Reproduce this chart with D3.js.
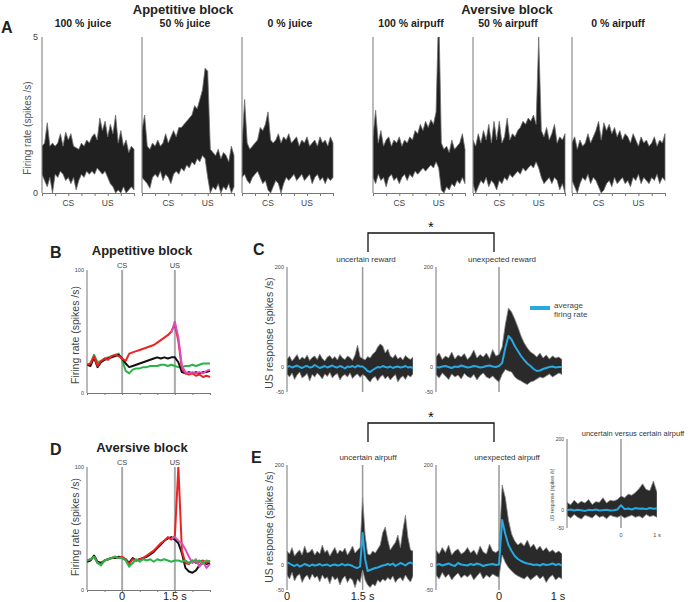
<!DOCTYPE html>
<html>
<head>
<meta charset="utf-8">
<script src="https://cdn.jsdelivr.net/npm/d3@7"></script>
<style>
body { margin: 0; background: #fff; }
svg { font-family: "Liberation Sans", Arial, sans-serif; }
</style>
</head>
<body>
<svg id="fig" width="688" height="602"></svg>
<script>
// time grids (s, relative to CS)
let tA = d3.range(36).map(i => -1 + i * 0.1);
let tUS = d3.range(51).map(i => i * 0.05);          // 0 .. 2.5 s
let tUnexp = d3.range(41).map(i => -1 + i * 0.05);  // -1 .. 1 s
let tInset = d3.range(26).map(i => -1.5 + i * 0.1); // -1.5 .. 1 s

// panel A : envelopes of normalised firing rate, one pair per condition
let juice100Hi = [1.5,1.6,2.25,1.5,1.6,1.5,1.6,1.9,1.5,1.95,1.7,1.9,1.5,1.45,1.4,1.6,1.5,1.7,1.6,1.8,1.9,1.7,2.4,2.0,2.3,1.8,2.2,1.9,2.5,1.6,2.0,1.5,1.7,1.3,1.5,1.4];
let juice100Lo = [0.6,0.4,0.2,0.5,0.0,0.6,0.5,0.7,0.6,0.4,0.5,0.3,0.5,0.1,0.4,0.6,0.5,0.7,0.6,0.7,0.6,0.8,0.7,0.6,0.7,0.5,0.3,0.2,0.0,0.1,0.0,0.2,0.0,0.1,0.2,0.1];
let juice50Hi = [2.0,2.5,1.5,1.4,1.6,1.5,1.7,1.5,1.6,1.9,1.6,1.8,2.0,1.8,2.1,2.1,2.2,2.3,2.4,2.5,2.8,2.7,3.0,3.3,4.0,3.9,1.4,1.3,1.2,1.4,1.1,1.3,1.2,1.0,1.5,1.2];
let juice50Lo = [0.5,0.4,0.3,0.15,0.5,0.6,0.5,0.7,0.4,0.6,0.5,0.3,0.6,0.7,0.6,0.8,0.7,0.9,0.8,1.0,0.9,1.1,1.0,1.2,1.1,0.5,0.0,0.2,0.1,0.3,0.0,0.2,0.1,0.3,0.0,0.2];
let juice0Hi = [1.5,3.0,1.6,1.4,1.5,1.6,1.7,2.1,2.0,2.2,2.6,1.7,1.6,1.7,1.9,1.6,1.8,1.7,1.9,1.6,1.7,1.8,1.5,1.7,1.6,1.8,1.5,1.6,1.7,1.5,1.8,1.6,1.7,1.5,1.8,1.6];
let juice0Lo = [0.5,0.6,0.4,0.3,0.5,0.6,0.7,0.5,0.3,0.4,0.1,0.0,0.2,0.4,0.3,0.0,0.3,0.5,0.4,0.5,0.6,0.4,0.5,0.6,0.4,0.5,0.6,0.3,0.5,0.6,0.4,0.5,0.3,0.5,0.4,0.5];
let puff100Hi = [1.8,2.65,1.6,2.0,1.5,1.7,1.8,1.5,1.7,1.6,1.8,1.5,1.7,1.6,1.8,1.7,2.0,1.9,2.2,2.0,2.3,2.1,2.35,2.2,2.6,6.0,1.6,1.4,1.5,1.3,1.7,1.4,1.5,1.6,1.9,1.4];
let puff100Lo = [0.5,0.3,0.6,0.4,0.5,0.2,0.5,0.6,0.4,0.5,0.3,0.5,0.6,0.4,0.6,0.5,0.7,0.6,0.7,0.8,0.7,0.8,0.9,0.8,1.0,0.8,0.1,0.0,0.2,0.1,0.3,0.2,0.4,0.3,0.5,0.3];
let puff50Hi = [1.7,1.5,1.9,1.6,2.0,1.7,2.2,1.6,2.3,1.7,2.3,1.6,1.8,2.4,1.7,1.9,1.8,2.0,2.1,2.3,2.2,2.4,2.3,2.5,2.2,5.0,2.0,1.8,2.1,1.7,1.9,2.2,1.6,1.8,1.7,1.9];
let puff50Lo = [0.3,0.0,0.2,0.4,0.3,0.5,0.2,0.4,0.3,0.1,0.4,0.3,0.5,0.4,0.6,0.5,0.6,0.7,0.6,0.8,0.7,0.8,0.9,0.8,1.0,0.8,0.5,0.3,0.4,0.5,0.3,0.5,0.4,0.1,0.3,0.0];
let puff0Hi = [1.6,1.8,1.4,1.7,1.5,1.6,1.9,1.6,1.8,2.0,2.3,1.7,2.25,2.0,2.2,1.9,2.1,1.8,2.0,1.7,1.9,1.8,1.6,1.9,1.7,1.5,1.8,1.6,1.7,1.5,1.6,1.8,1.5,1.7,1.6,1.9];
let puff0Lo = [0.4,0.2,0.0,0.3,0.5,0.4,0.6,0.3,0.5,0.4,0.2,0.0,0.1,0.3,0.4,0.2,0.5,0.3,0.4,0.5,0.3,0.4,0.2,0.5,0.4,0.6,0.3,0.5,0.4,0.3,0.5,0.4,0.6,0.3,0.5,0.4];

// panels B and D : population firing rate (spikes/s)
let appGreen = [23,24,31,25,26,28,29,30,31,32,27,18,16,19,20,20,21,21,22,22,22,23,23,22,23,22,21,21,22,22,23,22,23,24,24,24];
let appBlack = [23,22,29,21,25,27,28,29,30,31,28,24,21,22,23,24,25,26,27,28,29,28,29,28,29,29,25,17,16,17,16,17,16,17,17,18];
let appRed = [23,24,30,22,26,28,27,30,31,30,28,26,32,33,34,35,36,37,38,39,41,43,45,47,50,56,42,20,16,15,16,14,15,13,14,13];
let appMagenta = [null,null,null,null,null,null,null,null,null,null,null,null,null,null,null,null,null,null,null,null,null,null,null,null,49,58,45,22,17,16,17,16,17,16,18,19];
let avGreen = [24,25,27,22,20,24,25,26,27,26,26,24,19,22,25,23,25,24,25,23,25,24,25,24,23,24,24,23,24,22,24,23,24,22,24,23];
let avBlack = [23,24,28,23,22,24,25,26,26,27,26,25,22,26,24,25,26,27,29,31,34,37,40,42,43,41,38,30,18,15,14,16,20,22,21,22];
let avRed = [24,25,27,22,21,24,25,26,27,26,27,25,21,25,24,25,26,28,30,32,35,38,40,43,41,44,100,32,22,21,24,22,23,24,22,24];
let avMagenta = [null,null,null,null,null,null,null,null,null,null,null,null,null,null,null,null,null,null,null,null,null,null,null,null,42,43,40,38,33,27,22,25,19,23,18,21];

// panels C and E : US response envelopes and average (spikes/s)
let uncRewHi = [15,22,12,18,25,14,20,16,24,13,19,22,15,26,17,12,20,23,16,21,14,25,18,15,22,19,13,24,44,20,17,14,21,18,26,30,40,46,42,28,36,22,18,25,16,20,14,23,18,15,20];
let uncRewLo = [-14,-20,-12,-25,-16,-10,-22,-18,-13,-28,-15,-20,-12,-17,-24,-14,-19,-11,-22,-16,-13,-26,-18,-15,-20,-12,-23,-17,-14,-21,-15,-18,-25,-30,-22,-19,-28,-20,-16,-24,-18,-26,-20,-15,-30,-22,-18,-25,-16,-20,-14];
let uncRewAvg = [0,2,-1,1,3,0,-2,1,2,-1,0,4,1,-2,0,2,-1,1,3,0,-1,2,0,-3,1,0,2,-1,3,1,1,-3,-8,-10,-6,-3,0,-1,2,0,-1,1,-2,0,1,-1,0,2,-1,0,-2];
let unexRewHi = [20,28,15,22,18,30,16,24,20,27,15,22,34,18,25,20,28,17,35,22,25,40,85,118,110,96,80,62,48,38,30,26,20,28,18,24,16,22,18,20,15];
let unexRewLo = [-15,-22,-12,-18,-25,-14,-20,-16,-24,-13,-19,-22,-15,-26,-17,-12,-20,-23,-18,-25,-30,-15,-5,-8,-10,-20,-25,-28,-32,-35,-30,-28,-24,-20,-22,-18,-14,-20,-16,-12,-15];
let unexRewAvg = [0,-1,1,2,0,-2,1,0,3,1,-1,0,2,1,-1,0,2,3,1,0,2,8,38,62,55,42,32,22,14,7,2,-4,-8,-7,-4,-2,0,1,-1,0,0];
let uncPuffHi = [28,22,35,18,25,30,20,38,24,26,32,20,28,22,40,25,30,18,27,35,22,30,26,34,20,28,38,24,30,35,136,60,22,20,28,24,32,40,65,76,50,30,38,45,60,35,70,100,55,30,28];
let uncPuffLo = [-20,-28,-15,-32,-22,-18,-35,-25,-20,-30,-18,-26,-22,-34,-20,-28,-24,-38,-22,-30,-25,-40,-28,-22,-35,-26,-30,-45,-28,-35,-10,-30,-40,-45,-38,-42,-30,-35,-28,-32,-25,-30,-22,-35,-28,-25,-32,-20,-28,-34,-22];
let uncPuffAvg = [5,3,0,-2,1,-3,-1,2,0,-2,1,-1,0,2,-1,0,1,-2,0,1,-1,0,2,-1,1,0,-2,-5,-6,-3,64,12,-12,-10,-8,-6,-5,-3,-1,0,2,0,3,-2,1,4,2,-1,3,5,2];
let unexPuffHi = [30,22,35,25,40,20,28,32,22,26,35,24,30,20,38,26,22,42,28,25,30,160,135,90,62,48,40,45,38,50,35,42,30,38,28,35,26,30,24,28,22];
let unexPuffLo = [-20,-28,-15,-25,-18,-30,-22,-16,-26,-20,-24,-18,-30,-22,-15,-28,-20,-25,-18,-22,-25,20,5,-5,-12,-18,-22,-25,-28,-22,-30,-25,-20,-28,-22,-35,-25,-20,-30,-24,-28];
let unexPuffAvg = [0,2,-1,1,3,0,-2,4,1,0,-1,2,0,3,1,-2,0,1,2,0,1,90,62,40,28,18,12,8,5,3,2,0,1,-1,2,0,1,3,0,2,-1];
let cmpPuffHi = [22,15,28,18,25,20,30,16,24,22,35,20,28,26,30,40,35,45,42,50,60,74,58,55,82,50];
let cmpPuffLo = [-15,-22,-12,-20,-25,-14,-18,-22,-12,-20,-16,-24,-14,-18,-20,-15,-22,-18,-14,-20,-16,-22,-12,-18,-15,-20];
let cmpPuffAvg = [0,2,-1,1,0,-2,1,0,2,-1,0,1,-1,0,2,14,3,5,2,6,4,5,3,6,4,5];

let svg = d3.select('#fig');
let defs = svg.append('defs');
let BLUE = '#27a9e1';

let txt = (x, y, s, size, opts = {}) => svg.append('text')
    .attr('x', x).attr('y', y).text(s)
    .attr('font-size', size)
    .attr('font-weight', opts.bold ? 'bold' : null)
    .attr('text-anchor', opts.anchor || 'middle')
    .attr('fill', opts.fill || '#222')
    .attr('transform', opts.rot ? `rotate(-90,${x},${y})` : null);

let clipId = 0;
let clipped = (x0, x1, y0, y1) => {
    let id = 'c' + (clipId++);
    defs.append('clipPath').attr('id', id)
        .append('rect').attr('x', x0).attr('y', y0).attr('width', x1 - x0).attr('height', y1 - y0);
    return svg.append('g').attr('clip-path', `url(#${id})`);
};

let band = (g, t, lo, hi, x, y, fill, edge) => {
    g.append('path').datum(hi)
        .attr('d', d3.area().x((d, i) => x(t[i])).y0((d, i) => y(lo[i])).y1(d => y(d)))
        .attr('fill', fill).attr('stroke', edge).attr('stroke-width', 0.8)
        .attr('stroke-linejoin', 'miter');
};

let trace = (g, t, vals, x, y, color, w) => {
    g.append('path').datum(vals)
        .attr('d', d3.line().defined(d => d != null).x((d, i) => x(t[i])).y(d => y(d)))
        .attr('fill', 'none').attr('stroke', color).attr('stroke-width', w)
        .attr('stroke-linejoin', 'round');
};

let vline = (x, y0, y1, color, w) => svg.append('line')
    .attr('x1', x).attr('x2', x).attr('y1', y0).attr('y2', y1)
    .attr('stroke', color).attr('stroke-width', w);

let bottomAxis = (x, yPix, ticks, size) => {
    let g = svg.append('g').attr('transform', `translate(0,${yPix})`)
        .call(d3.axisBottom(x).tickValues(ticks).tickSize(size).tickFormat('').tickSizeOuter(0));
    g.select('.domain').attr('stroke', '#777');
    g.selectAll('.tick line').attr('stroke', '#777');
    return g;
};

// ---------- A ----------
txt(183, 14, 'Appetitive block', 13, {bold: true});
txt(507, 14, 'Aversive block', 13, {bold: true});
txt(1, 33, 'A', 16, {bold: true, anchor: 'start'});
txt(31, 128, 'Firing rate (spikes /s)', 10, {rot: true, fill: '#555'});

let aPanels = [
    {x0: 42, x1: 134, hi: juice100Hi, lo: juice100Lo, title: '100 % juice', tx: 83},
    {x0: 142, x1: 234, hi: juice50Hi, lo: juice50Lo, title: '50 % juice', tx: 185},
    {x0: 242, x1: 333, hi: juice0Hi, lo: juice0Lo, title: '0 % juice', tx: 290},
    {x0: 373, x1: 465, hi: puff100Hi, lo: puff100Lo, title: '100 % airpuff', tx: 411},
    {x0: 473, x1: 565, hi: puff50Hi, lo: puff50Lo, title: '50 % airpuff', tx: 508},
    {x0: 572, x1: 665, hi: puff0Hi, lo: puff0Lo, title: '0 % airpuff', tx: 618}
];
aPanels.forEach((p, k) => {
    let x = d3.scaleLinear().domain([-1, 2.5]).range([p.x0, p.x1]);
    let y = d3.scaleLinear().domain([0, 5]).range([193, 37]);
    let g = clipped(p.x0, p.x1 + 1, 37, 194);
    band(g, tA, p.lo, p.hi, x, y, '#202020', '#707070');
    vline(p.x0, 37, 193, '#777', 1);
    bottomAxis(x, 193, d3.range(-1, 2.51, 0.5), 3);
    txt(x(0), 206, 'CS', 8.5, {fill: '#444'});
    txt(x(1.5), 206, 'US', 8.5, {fill: '#444'});
    txt(p.tx, 27, p.title, 10.5, {bold: true});
    if (k === 0) {
        txt(38, 40, '5', 9, {anchor: 'end', fill: '#444'});
        txt(38, 196, '0', 9, {anchor: 'end', fill: '#444'});
    }
});

// ---------- B and D ----------
let popPanel = (yTop, yBot, title, letter, labY, series) => {
    let x = d3.scaleLinear().domain([-1, 2.5]).range([87, 210]);
    let y = d3.scaleLinear().domain([0, 100]).range([yBot, yTop]);
    txt(50, yTop - 12, letter, 16, {bold: true, anchor: 'start'});
    txt(142, yTop - 15, title, 13, {bold: true});
    txt(x(0), yTop - 2, 'CS', 7.5, {fill: '#444'});
    txt(x(1.5), yTop - 2, 'US', 7.5, {fill: '#444'});
    vline(x(0), yTop, yBot, '#aaa', 2);
    vline(x(1.5), yTop, yBot, '#aaa', 2);
    vline(87, yTop, yBot, '#777', 1);
    bottomAxis(x, yBot, d3.range(-1, 2.51, 0.5), 2);
    txt(84, yTop + 2, '100', 5.5, {anchor: 'end', fill: '#444'});
    txt(84, yBot + 2, '0', 5.5, {anchor: 'end', fill: '#444'});
    txt(79, labY, 'Firing rate (spikes /s)', 10.5, {rot: true, fill: '#444'});
    let g = clipped(87, 212, yTop, yBot);
    series.forEach(s => trace(g, tA, s.v, x, y, s.c, 2));
    return x;
};
popPanel(270, 393, 'Appetitive block', 'B', 335, [
    {v: appGreen, c: '#2bb24c'}, {v: appBlack, c: '#111'},
    {v: appRed, c: '#ee2222'}, {v: appMagenta, c: '#d94fc0'}
]);
let xD = popPanel(467, 590, 'Aversive block', 'D', 527, [
    {v: avBlack, c: '#111'}, {v: avRed, c: '#ee2222'},
    {v: avMagenta, c: '#d94fc0'}, {v: avGreen, c: '#2bb24c'}
]);
txt(xD(0), 600, '0', 11, {fill: '#222'});
txt(xD(1.5), 600, '1.5 s', 11, {fill: '#222'});

// ---------- C and E ----------
let usPanel = (x0, x1, yTop, yBot, dom, t, hi, lo, avg, vt, label, labX) => {
    let x = d3.scaleLinear().domain(dom).range([x0, x1]);
    let y = d3.scaleLinear().domain([-50, 200]).range([yBot, yTop]);
    let small = (yBot - yTop) < 100 ? 5 : 5.5;
    vline(x(vt), yTop, yBot, '#999', 1.5);
    let g = clipped(x0, x1, yTop, yBot);
    band(g, t, lo, hi, x, y, '#2a2a2a', '#8a8a8a');
    trace(g, t, avg, x, y, BLUE, 2);
    vline(x0, yTop, yBot, '#777', 1);
    txt(x0 - 3, y(200) + 2, '200', small, {anchor: 'end', fill: '#444'});
    txt(x0 - 3, y(0) + 2, '0', small, {anchor: 'end', fill: '#444'});
    txt(x0 - 3, y(-50) + 2, '-50', small, {anchor: 'end', fill: '#444'});
    if (label) txt(labX, yTop - 5, label, 8, {fill: '#333'});
    return x;
};

// C
txt(253, 255, 'C', 16, {bold: true, anchor: 'start'});
usPanel(287, 413, 267, 392, [0, 2.5], tUS, uncRewHi, uncRewLo, uncRewAvg, 1.5, 'uncertain reward', 366);
usPanel(436, 562, 267, 392, [-1, 1], tUnexp, unexRewHi, unexRewLo, unexRewAvg, 0, 'unexpected reward', 502);
txt(273, 333, 'US response (spikes /s)', 10.5, {rot: true, fill: '#444'});
svg.append('path').attr('d', 'M368,252V233H494V252').attr('fill', 'none').attr('stroke', '#111').attr('stroke-width', 1.3);
txt(431, 232, '*', 15, {fill: '#111'});
svg.append('line').attr('x1', 530).attr('x2', 550).attr('y1', 308).attr('y2', 308)
    .attr('stroke', BLUE).attr('stroke-width', 4);
txt(554, 308, 'average', 8, {anchor: 'start', fill: '#444'});
txt(554, 317, 'firing rate', 8, {anchor: 'start', fill: '#444'});

// E
txt(251, 463, 'E', 16, {bold: true, anchor: 'start'});
let xE1 = usPanel(287, 413, 465, 590, [0, 2.5], tUS, uncPuffHi, uncPuffLo, uncPuffAvg, 1.5, 'uncertain airpuff', 368);
let xE2 = usPanel(436, 562, 465, 590, [-1, 1], tUnexp, unexPuffHi, unexPuffLo, unexPuffAvg, 0, 'unexpected airpuff', 507);
txt(273, 527, 'US response (spikes /s)', 10.5, {rot: true, fill: '#444'});
svg.append('path').attr('d', 'M368,442V423H494V442').attr('fill', 'none').attr('stroke', '#111').attr('stroke-width', 1.3);
txt(431, 422, '*', 15, {fill: '#111'});
txt(xE1(0), 600, '0', 11, {fill: '#222'});
txt(xE1(1.5), 600, '1.5 s', 11, {fill: '#222'});
txt(xE2(0), 600, '0', 11, {fill: '#222'});
txt(xE2(1) - 4, 600, '1 s', 11, {fill: '#222'});

// inset
let xI = usPanel(567, 657, 439, 528, [-1.5, 1], tInset, cmpPuffHi, cmpPuffLo, cmpPuffAvg, 0, null, 0);
txt(633, 436, 'uncertain versus certain airpuff', 7.5, {fill: '#333'});
txt(554, 495, 'US response (spikes /s)', 5, {rot: true, fill: '#444'});
txt(xI(0), 537, '0', 5.5, {fill: '#444'});
txt(xI(1), 537, '1 s', 5.5, {fill: '#444'});
</script>
</body>
</html>
